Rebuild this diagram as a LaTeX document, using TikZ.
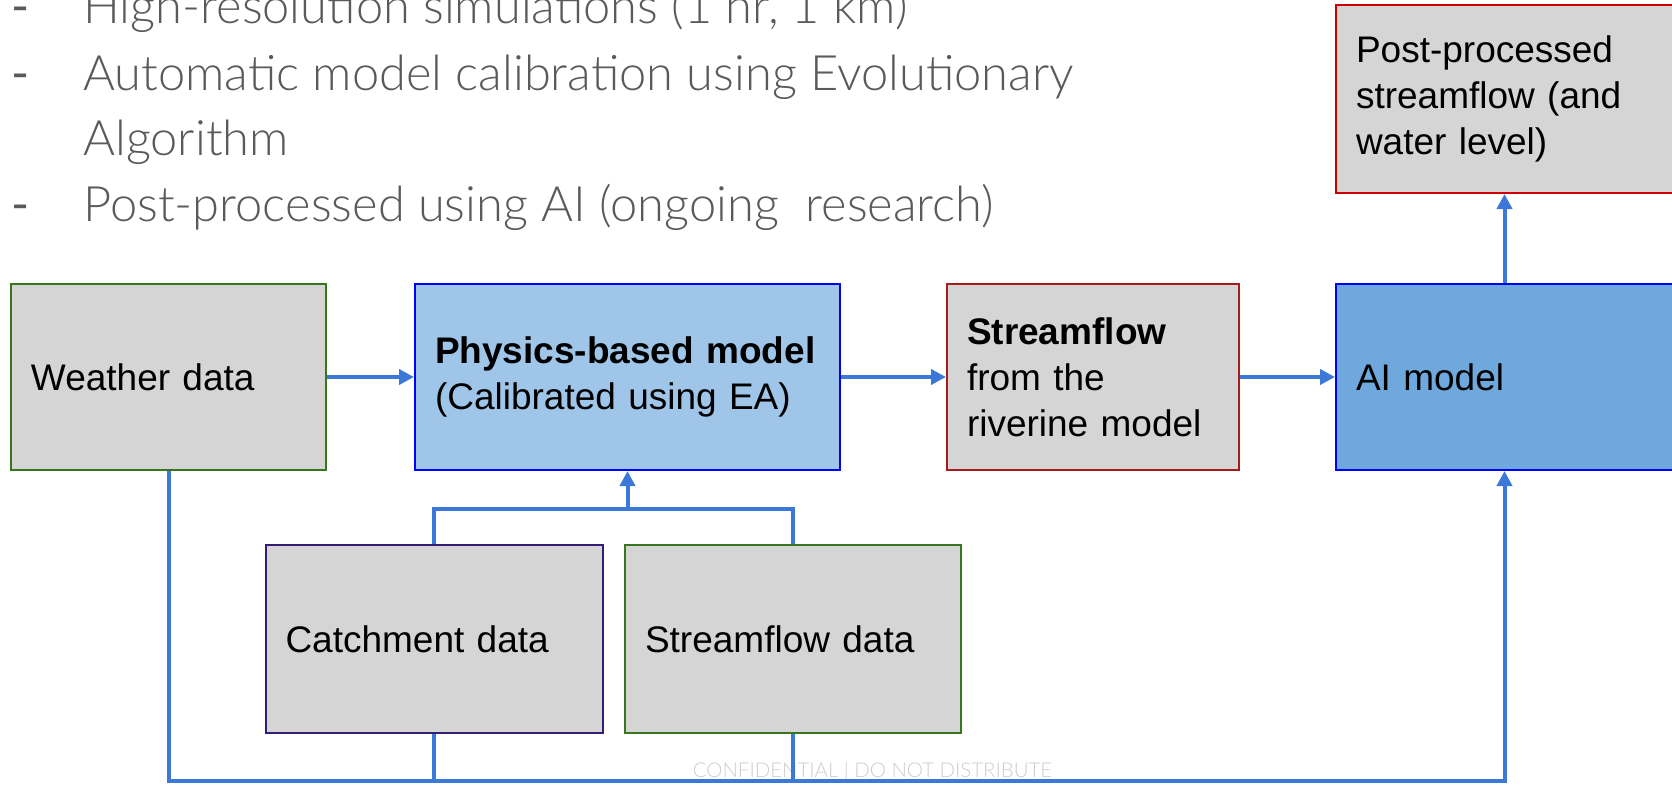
\documentclass[tikz,border=0pt]{standalone}
\usepackage{fontspec}
\setmainfont{Liberation Sans}
\IfFontExistsTF{Lato Light}{\newfontfamily\lightfont{Lato Light}}{\newfontfamily\lightfont{Lato}}
\newfontfamily\regfont{Lato}
\usetikzlibrary{arrows.meta}
\definecolor{boxgray}{HTML}{D5D5D5}
\definecolor{physblue}{HTML}{9FC5E8}
\definecolor{aiblue}{HTML}{6FA8DC}
\definecolor{pureblue}{HTML}{0000FF}
\definecolor{dgreen}{HTML}{38761D}
\definecolor{dred}{HTML}{A61C1C}
\definecolor{bred}{HTML}{CC0000}
\definecolor{dpurple}{HTML}{351C75}
\definecolor{connblue}{HTML}{3C78D8}
\definecolor{bulletgray}{HTML}{5A5A5A}
\definecolor{confgray}{HTML}{CCCCCC}
\tikzset{
  box/.style={draw, fill=boxgray, line width=1pt, inner xsep=10pt, inner ysep=0pt,
    align=left, anchor=center, minimum height=93pt,
    font=\fontsize{18.5}{23}\selectfont},
  conn/.style={draw=connblue, line width=2pt, line join=miter},
  arr/.style={conn, -{Triangle[length=7.5pt,width=7.5pt]}},
  bullet/.style={anchor=base west, inner sep=0pt, text=bulletgray,
    font=\lightfont\fontsize{24.4}{28}\selectfont},
  dashmark/.style={anchor=base west, inner sep=0pt, text=bulletgray,
    font=\regfont\fontsize{24.4}{28}\selectfont},
}
\begin{document}
\begin{tikzpicture}[x=0.5pt,y=-0.5pt]
\useasboundingbox (0,0) rectangle (1672,784);
\clip (0,0) rectangle (1672,784);

% bullet text
\node[dashmark] (d1) at (11,23.5) {-};
\node[bullet] (t1) at (83,23.5) {High-resolution simulations (1 hr, 1 km)};
\node[dashmark] (d2) at (11,90.6) {-};
\node[bullet] (t2) at (83,90.6) {Automatic model calibration using Evolutionary};
\node[bullet] (t3) at (83,155) {Algorithm};
\node[dashmark] (d4) at (11,221) {-};
\node[bullet] (t4) at (83,221) {Post-processed using AI (ongoing\ \ research)};

% boxes
\node[box, draw=dgreen, text width=137.5pt] (weather) at (168.5,377) {Weather data};
\node[box, draw=pureblue, fill=physblue, text width=192.5pt] (phys) at (627.5,377)
  {\textbf{Physics-based model}\\(Calibrated using EA)};
\node[box, draw=dred, text width=126pt] (sflow) at (1093,377)
  {\textbf{Streamflow}\\from the\\riverine model};
\node[box, draw=pureblue, fill=aiblue, text width=148.5pt] (ai) at (1504.5,377) {AI model};
\node[box, draw=bred, text width=148.5pt, minimum height=94pt] (post) at (1504.5,99)
  {Post-processed\\streamflow (and\\water level)};
\node[box, draw=dpurple, text width=148.5pt, minimum height=93.75pt] (catch) at (434,639) {Catchment data};
\node[box, draw=dgreen, text width=148pt, minimum height=93.75pt] (sdata) at (793,639) {Streamflow data};

% watermark
\node[anchor=base, inner sep=0pt, text=confgray, font=\lightfont\fontsize{10.2}{12}\selectfont]
  (conf) at (872.5,777) {CONFIDENTIAL | DO NOT DISTRIBUTE};

% connectors
\draw[arr] (weather) -- (phys);
\draw[arr] (phys) -- (sflow);
\draw[arr] (sflow) -- (ai);
\draw[arr] (ai) -- (post);

\coordinate (jt) at (434,508.6);
\draw[conn] (catch.north) -- (catch.north |- jt) -- (sdata.north |- jt) -- (sdata.north);
\draw[arr] (phys.south |- jt) -- (phys.south);

\coordinate (bl) at (168.5,781);
\coordinate (br) at (1504.5,781);
\draw[arr] (weather.south) -- (bl) -- (br) -- (ai.south);
\draw[conn] (catch.south) -- (catch.south |- bl);
\draw[conn] (sdata.south) -- (sdata.south |- bl);
\end{tikzpicture}
\end{document}
